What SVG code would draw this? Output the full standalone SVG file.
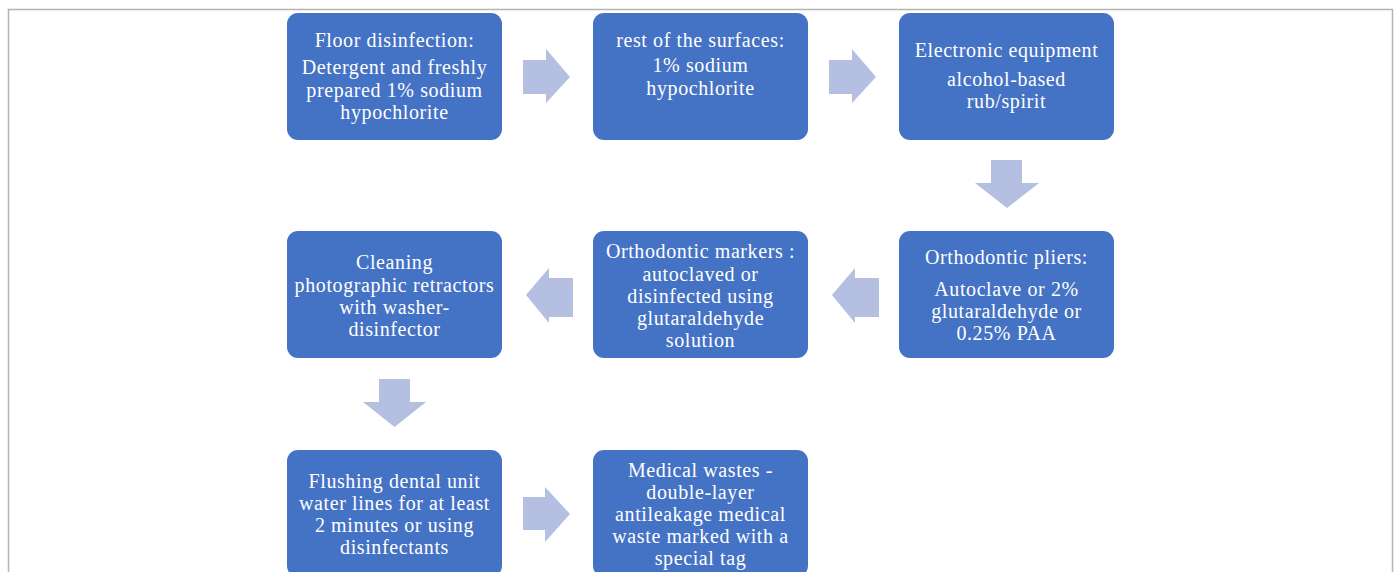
<svg xmlns="http://www.w3.org/2000/svg" width="1397" height="572" viewBox="0 0 1397 572">
<defs>
<style>
.node{fill:#4472C4;}
.t{font-family:"Liberation Serif","Times New Roman",serif;font-size:20px;fill:#ffffff;text-anchor:middle;letter-spacing:0.6px;}
.arr{fill:#B4BFE2;}
.frame{fill:none;stroke:#b4b4b4;stroke-width:1.5;}
</style>
</defs>
<rect width="1397" height="572" fill="#ffffff"/>
<path class="frame" d="M8.5,572 V9.5 H1392.5 V572"/>

<g id="connectors">
<polygon class="arr" points="523,60 546,60 546,49 570,77 546,103 546,94 523,94"/>
<polygon class="arr" points="829,60 852,60 852,49 876,77 852,103 852,94 829,94"/>
<polygon class="arr" points="991,160 1022,160 1022,183 1039,183 1007,208 975,183 991,183"/>
<polygon class="arr" points="879,278 855,278 855,268 832,295 855,323 855,317 879,317"/>
<polygon class="arr" points="573,278 549,278 549,268 526,295 549,323 549,317 573,317"/>
<polygon class="arr" points="379,379 410,379 410,402 426,402 394.5,427 363,402 379,402"/>
<polygon class="arr" points="523,497 545,497 545,487 570,514 545,542 545,530 523,530"/>
</g>

<g id="n1">
<rect class="node" x="287" y="13" width="215" height="127" rx="11"/>
<text class="t" x="394.5" y="47">Floor disinfection:</text>
<text class="t" x="394.5" y="74">Detergent and freshly</text>
<text class="t" x="394.5" y="96.5">prepared 1% sodium</text>
<text class="t" x="394.5" y="119">hypochlorite</text>
</g>

<g id="n2">
<rect class="node" x="593" y="13" width="215" height="127" rx="11"/>
<text class="t" x="700.5" y="47">rest of the surfaces:</text>
<text class="t" x="700.5" y="72">1% sodium</text>
<text class="t" x="700.5" y="95">hypochlorite</text>
</g>

<g id="n3">
<rect class="node" x="899" y="13" width="215" height="127" rx="11"/>
<text class="t" x="1006.5" y="57">Electronic equipment</text>
<text class="t" x="1006.5" y="86">alcohol-based</text>
<text class="t" x="1006.5" y="108">rub/spirit</text>
</g>

<g id="n4">
<rect class="node" x="899" y="231" width="215" height="127" rx="11"/>
<text class="t" x="1006.5" y="264">Orthodontic pliers:</text>
<text class="t" x="1006.5" y="296">Autoclave or 2%</text>
<text class="t" x="1006.5" y="318">glutaraldehyde or</text>
<text class="t" x="1006.5" y="340">0.25% PAA</text>
</g>

<g id="n5">
<rect class="node" x="593" y="231" width="215" height="127" rx="11"/>
<text class="t" x="700.5" y="258">Orthodontic markers :</text>
<text class="t" x="700.5" y="281">autoclaved or</text>
<text class="t" x="700.5" y="303">disinfected using</text>
<text class="t" x="700.5" y="325">glutaraldehyde</text>
<text class="t" x="700.5" y="347">solution</text>
</g>

<g id="n6">
<rect class="node" x="287" y="231" width="215" height="127" rx="11"/>
<text class="t" x="394.5" y="269">Cleaning</text>
<text class="t" x="394.5" y="292">photographic retractors</text>
<text class="t" x="394.5" y="314">with washer-</text>
<text class="t" x="394.5" y="336">disinfector</text>
</g>

<g id="n7">
<rect class="node" x="287" y="450" width="215" height="127" rx="11"/>
<text class="t" x="394.5" y="488">Flushing dental unit</text>
<text class="t" x="394.5" y="510">water lines for at least</text>
<text class="t" x="394.5" y="532">2 minutes or using</text>
<text class="t" x="394.5" y="554">disinfectants</text>
</g>

<g id="n8">
<rect class="node" x="593" y="450" width="215" height="127" rx="11"/>
<text class="t" x="700.5" y="477">Medical wastes -</text>
<text class="t" x="700.5" y="499">double-layer</text>
<text class="t" x="700.5" y="521">antileakage medical</text>
<text class="t" x="700.5" y="543">waste marked with a</text>
<text class="t" x="700.5" y="565">special tag</text>
</g>
</svg>
